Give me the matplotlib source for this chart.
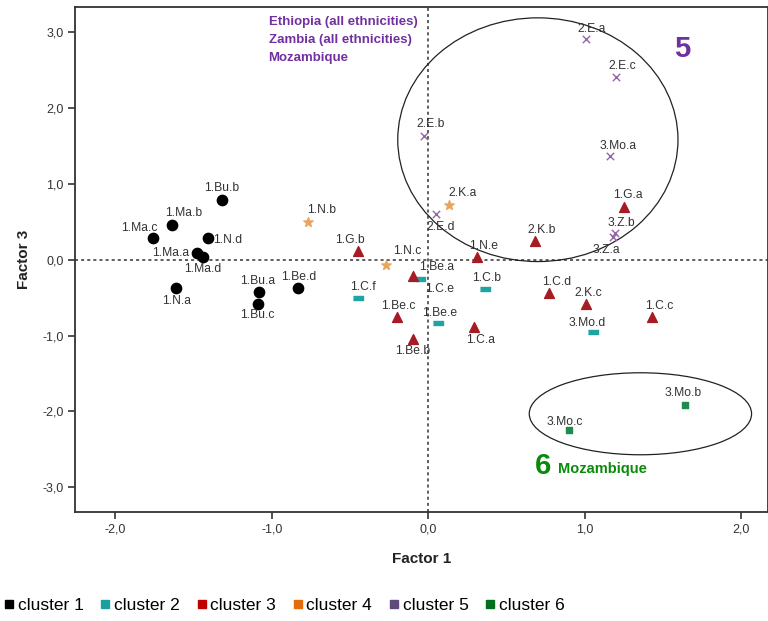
import matplotlib.pyplot as plt
from matplotlib.lines import Line2D
from matplotlib.patches import Ellipse

plt.rcParams['font.family'] = ['Liberation Sans', 'DejaVu Sans']

# cluster 1 - black circles
c1_names = ['1.Bu.b', '1.Ma.b', '1.Ma.c', '1.N.d', '1.Ma.a', '1.Ma.d', '1.N.a', '1.Bu.a', '1.Bu.c', '1.Be.d']
c1_x = [-1.32, -1.64, -1.76, -1.41, -1.48, -1.44, -1.61, -1.08, -1.09, -0.83]
c1_y = [0.78, 0.45, 0.28, 0.28, 0.09, 0.03, -0.38, -0.42, -0.59, -0.37]

# cluster 2 - teal bars
c2_names = ['1.C.e', '1.C.f', '1.C.b', '1.Be.e', '3.Mo.d']
c2_x = [-0.05, -0.45, 0.36, 0.06, 1.05]
c2_y = [-0.25, -0.51, -0.39, -0.84, -0.95]

# cluster 3 - red triangles
c3_names = ['1.G.b', '1.N.e', '1.Be.a', '1.Be.c', '1.Be.b', '1.C.a', '2.K.b', '1.G.a', '1.C.d', '2.K.c', '1.C.c']
c3_x = [-0.45, 0.31, -0.10, -0.20, -0.10, 0.29, 0.68, 1.25, 0.77, 1.01, 1.43]
c3_y = [0.11, 0.04, -0.22, -0.75, -1.04, -0.89, 0.24, 0.70, -0.44, -0.59, -0.75]

# cluster 4 - orange stars
c4_names = ['1.N.b', '1.N.c', '2.K.a']
c4_x = [-0.77, -0.27, 0.13]
c4_y = [0.49, -0.07, 0.72]

# cluster 5 - purple crosses
c5_names = ['2.E.d', '2.E.a', '2.E.c', '2.E.b', '3.Mo.a', '3.Z.b', '3.Z.a']
c5_x = [0.05, 1.01, 1.20, -0.03, 1.16, 1.19, 1.18]
c5_y = [0.60, 2.91, 2.41, 1.63, 1.36, 0.35, 0.30]

# cluster 6 - green squares
c6_names = ['3.Mo.b', '3.Mo.c']
c6_x = [1.64, 0.90]
c6_y = [-1.91, -2.24]

legend_labels = ['cluster 1', 'cluster 2', 'cluster 3', 'cluster 4', 'cluster 5', 'cluster 6']
legend_colors = ['#000000', '#1A9E9E', '#C00000', '#E46C0A', '#604A7B', '#006F1E']

# label offsets in pixels (default: straight above)
offsets = {
    '1.Bu.b': (0, 12), '1.Ma.b': (12, 12), '1.Ma.c': (-13, 10), '1.N.d': (20, -2),
    '1.Ma.a': (-26, 0), '1.Ma.d': (0, -12), '1.N.a': (0, -13), '1.Bu.a': (-2, 11),
    '1.Bu.c': (0, -11), '1.Be.d': (0, 11), '1.N.b': (14, 12), '1.G.b': (-8, 11),
    '1.N.c': (21, 14), '1.Be.a': (24, 9), '1.C.e': (19, -10), '1.C.f': (5, 11),
    '1.C.b': (2, 11), '1.Be.c': (1, 11), '1.Be.e': (2, 10), '1.Be.b': (0, -12),
    '1.C.a': (7, -13), '2.K.a': (14, 12), '2.E.d': (5, -13), '1.N.e': (7, 11),
    '2.K.b': (7, 11), '1.G.a': (4, 12), '3.Z.b': (7, 10), '3.Z.a': (-7, -13),
    '1.C.d': (8, 11), '2.K.c': (2, 11), '1.C.c': (7, 11), '3.Mo.d': (-5, 9),
    '2.E.a': (5, 10), '2.E.c': (6, 11), '2.E.b': (7, 12), '3.Mo.a': (8, 10),
    '3.Mo.b': (-2, 12), '3.Mo.c': (-4, 8),
}

fig = plt.figure(figsize=(7.68, 6.21), dpi=100)
ax = fig.add_axes([0.098, 0.176, 0.902, 0.813])

ax.axhline(0, color='#333333', linestyle=(0, (2, 2)), linewidth=1.1, zorder=1)
ax.axvline(0, color='#333333', linestyle=(0, (2, 2)), linewidth=1.1, zorder=1)

bar = [(-2, -0.8), (2, -0.8), (2, 0.8), (-2, 0.8)]
ax.scatter(c1_x, c1_y, marker='o', s=55, color='black', zorder=3)
ax.scatter(c2_x, c2_y, marker=bar, s=60, color='#1FA3A3', zorder=3)
ax.scatter(c3_x, c3_y, marker='^', s=50, color='#A51C24', zorder=3)
ax.scatter(c4_x, c4_y, marker='*', s=50, color='#EBA45C', zorder=3)
ax.scatter(c5_x, c5_y, marker='x', s=28, color='#9463A8', linewidths=1.0, zorder=3)
ax.scatter(c6_x, c6_y, marker='s', s=24, color='#1E8A50', zorder=3)

for names, xs, ys in [(c1_names, c1_x, c1_y), (c2_names, c2_x, c2_y), (c3_names, c3_x, c3_y),
                      (c4_names, c4_x, c4_y), (c5_names, c5_x, c5_y), (c6_names, c6_x, c6_y)]:
    for n, x, y in zip(names, xs, ys):
        dx, dy = offsets.get(n, (0, 11))
        ax.annotate(n, (x, y), xytext=(dx, dy), textcoords='offset pixels',
                    ha='center', va='center', fontsize=8.7, color='#333333', zorder=4)

ax.add_patch(Ellipse((0.70, 1.58), 1.79, 3.21, fill=False, edgecolor='#222222', linewidth=0.9, zorder=2))
ax.add_patch(Ellipse((1.355, -2.03), 1.42, 1.08, fill=False, edgecolor='#222222', linewidth=0.9, zorder=2))

ax.text(-1.02, 3.13, 'Ethiopia (all ethnicities)', color='#7030A0', fontsize=9.5, fontweight='bold', va='center')
ax.text(-1.02, 2.89, 'Zambia (all ethnicities)', color='#7030A0', fontsize=9.5, fontweight='bold', va='center')
ax.text(-1.02, 2.65, 'Mozambique', color='#7030A0', fontsize=9.5, fontweight='bold', va='center')
ax.text(1.62, 2.77, '5', color='#7030A0', fontsize=21, fontweight='bold', ha='center', va='center')
ax.text(0.73, -2.72, '6', color='#0A8A0A', fontsize=21, fontweight='bold', ha='center', va='center')
ax.text(0.83, -2.76, 'Mozambique', color='#0A8A0A', fontsize=10.5, fontweight='bold', va='center')

ax.set_xlim(-2.255, 2.17)
ax.set_ylim(-3.32, 3.33)
ax.set_xticks([-2, -1, 0, 1, 2])
ax.set_yticks([-3, -2, -1, 0, 1, 2, 3])
ax.set_xticklabels(['-2,0', '-1,0', '0,0', '1,0', '2,0'])
ax.set_yticklabels(['-3,0', '-2,0', '-1,0', '0,0', '1,0', '2,0', '3,0'])
ax.tick_params(labelsize=9, colors='#333333', length=5, width=1.2)
for s in ax.spines.values():
    s.set_linewidth(1.3)
    s.set_color('#333333')
ax.set_xlabel('Factor 1', fontsize=11, fontweight='bold', color='#222222', labelpad=12)
ax.set_ylabel('Factor 3', fontsize=11, fontweight='bold', color='#222222', labelpad=8)

handles = [Line2D([], [], marker='s', linestyle='', color=c, markersize=5.5) for c in legend_colors]
fig.legend(handles, legend_labels, loc='lower left', bbox_to_anchor=(-0.014, -0.012), ncol=6,
           frameon=False, fontsize=12.5, handlelength=0.5, handletextpad=0.25, columnspacing=1.0)

fig.savefig('out.png', dpi=100)
